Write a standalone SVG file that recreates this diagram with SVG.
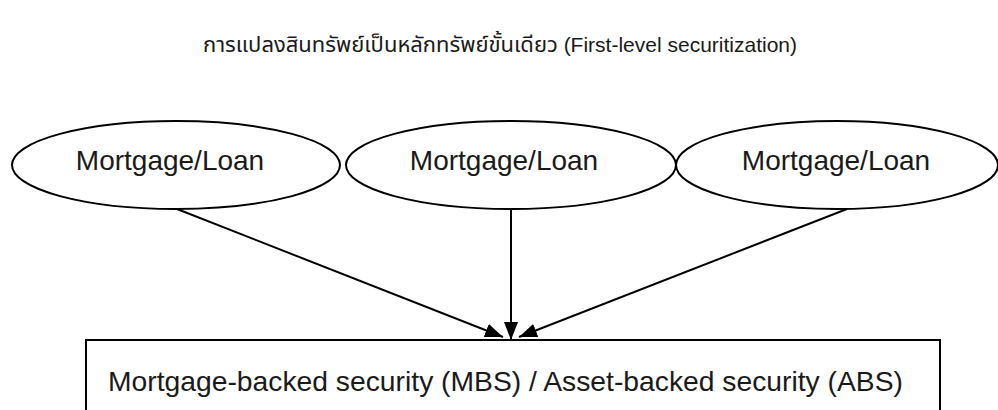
<svg xmlns="http://www.w3.org/2000/svg" width="998" height="410" viewBox="0 0 998 410">
  <style>
    .shape { fill: #ffffff; stroke: #000000; stroke-width: 2; }
    .label { font-family: "Liberation Sans", Arial, "Noto Sans", "Noto Sans Thai", sans-serif; fill: #1a1a1a; }
    .title { font-size: 21px; text-anchor: middle; }
    .title-th { font-size: 22px; }
    .node-text { font-size: 28px; text-anchor: middle; }
    .box-text { font-size: 28px; }
    .link { stroke: #000000; stroke-width: 2; fill: none; marker-end: url(#arrow); }
  </style>
  <defs>
    <marker id="arrow" viewBox="0 0 18 14" refX="18" refY="7" markerWidth="18" markerHeight="14" markerUnits="userSpaceOnUse" orient="auto">
      <path d="M0,0 L18,7 L0,14 Z" fill="#000000"/>
    </marker>
  </defs>
  <rect width="998" height="410" fill="#ffffff"/>

  <!-- heading: Thai part followed by the English name -->
  <text id="heading" class="label title" x="500" y="52"><tspan class="title-th">การแปลงสินทรัพย์เป็นหลักทรัพย์ขั้นเดียว</tspan> (First-level securitization)</text>

  <!-- arrows from each loan into the security box -->
  <g id="connectors">
    <line class="link" x1="177" y1="209" x2="503" y2="337"/>
    <line class="link" x1="511" y1="209" x2="511" y2="340"/>
    <line class="link" x1="847" y1="209" x2="519" y2="337"/>
  </g>

  <g id="loan1">
    <ellipse class="shape" cx="176" cy="165" rx="164" ry="44"/>
    <text class="label node-text" x="170" y="170">Mortgage/Loan</text>
  </g>
  <g id="loan2">
    <ellipse class="shape" cx="511" cy="165" rx="165" ry="44"/>
    <text class="label node-text" x="504" y="170">Mortgage/Loan</text>
  </g>
  <g id="loan3">
    <ellipse class="shape" cx="837" cy="165" rx="161" ry="44"/>
    <text class="label node-text" x="836" y="170">Mortgage/Loan</text>
  </g>

  <g id="security">
    <rect class="shape" x="86" y="340" width="854" height="80"/>
    <text class="label box-text" x="108" y="391" textLength="795" lengthAdjust="spacingAndGlyphs">Mortgage-backed security (MBS) / Asset-backed security (ABS)</text>
  </g>
</svg>
